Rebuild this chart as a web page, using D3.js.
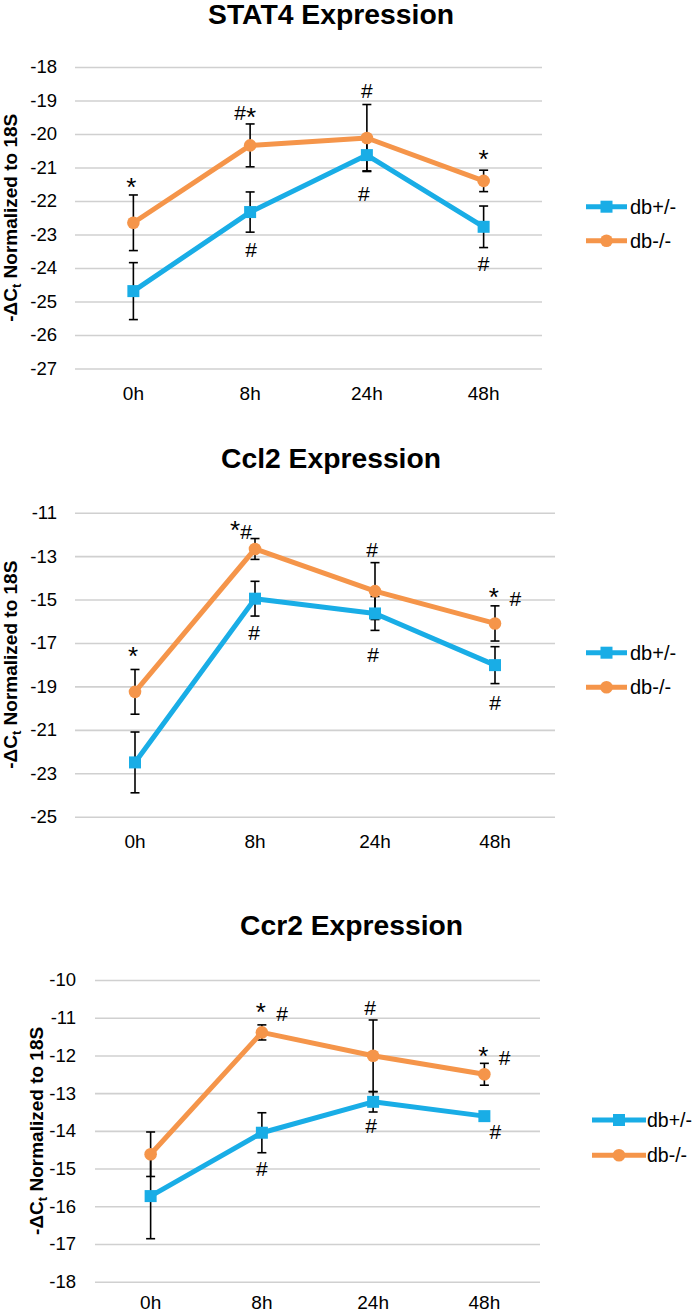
<!DOCTYPE html>
<html>
<head>
<meta charset="utf-8">
<script src="https://cdn.jsdelivr.net/npm/d3@7"></script>
<style>
  html, body { margin: 0; padding: 0; background: #fff; }
  svg { display: block; }
  text { font-family: "Liberation Sans", Arial, Helvetica, sans-serif; fill: #000; }
</style>
</head>
<body>
<svg id="chart" width="693" height="1313"></svg>
<script>
// ---------------- DATA ----------------
const categories = ["0h", "8h", "24h", "48h"];
const seriesNames = ["db+/-", "db-/-"];

// STAT4
const stat4Het    = [-24.69, -22.33, -20.63, -22.77];
const stat4HetErr = [0.85, 0.60, 0.47, 0.62];
const stat4Ko     = [-22.65, -20.34, -20.12, -21.40];
const stat4KoErr  = [0.83, 0.64, 1.00, 0.32];
const stat4Ticks  = [-18, -19, -20, -21, -22, -23, -24, -25, -26, -27];
const stat4MarkCats   = ["0h", "8h", "8h", "24h", "24h", "48h", "48h"];
const stat4MarkValues = [-21.46, -19.37, -23.44, -18.69, -21.77, -20.63, -23.88];
const stat4MarkTexts  = ["*", "#*", "#", "#", "#", "*", "#"];

// Ccl2
const ccl2Het    = [-22.50, -14.96, -15.64, -18.02];
const ccl2HetErr = [1.40, 0.80, 0.78, 0.85];
const ccl2Ko     = [-19.25, -12.67, -14.61, -16.10];
const ccl2KoErr  = [1.03, 0.48, 1.31, 0.81];
const ccl2Ticks  = [-11, -13, -15, -17, -19, -21, -23, -25];
const ccl2MarkCats   = ["0h", "8h", "8h", "24h", "24h", "48h", "48h"];
const ccl2MarkValues = [-17.43, -11.60, -16.53, -12.70, -17.51, -14.71, -19.75];
const ccl2MarkTexts  = ["*", "*#", "#", "#", "#", "* #", "#"];

// Ccr2
const ccr2Het    = [-15.73, -14.05, -13.23, -13.61];
const ccr2HetErr = [1.13, 0.53, 0.27, 0.08];
const ccr2Ko     = [-14.62, -11.39, -12.01, -12.50];
const ccr2KoErr  = [0.59, 0.20, 0.95, 0.29];
const ccr2Ticks  = [-10, -11, -12, -13, -14, -15, -16, -17, -18];
const ccr2MarkCats   = ["8h", "8h", "24h", "24h", "48h", "48h"];
const ccr2MarkValues = [-10.75, -14.99, -10.74, -13.85, -11.90, -14.03];
const ccr2MarkTexts  = ["* #", "#", "#", "#", "* #", "#"];

// ---------------- STYLE / LAYOUT ----------------
const BLUE = "#19ADE6";
const ORANGE = "#F5954A";
const GRID = "#D0D0D0";

const panels = [
  {
    title: "STAT4 Expression", titleX: 331, titleY: 24, titleW: 246,
    x0: 75, x1: 542, yTop: 67, yBottom: 368.5,
    ticks: stat4Ticks, tickRight: 57, xLabelY: 400, yLabelX: 17,
    het: stat4Het, hetErr: stat4HetErr, ko: stat4Ko, koErr: stat4KoErr,
    markCats: stat4MarkCats, markValues: stat4MarkValues, markTexts: stat4MarkTexts,
    markDx: [-2, -5, 1, 0, -3, 0, 0],
    legLine: [586, 627], legText: 630, legSize: 20, legY: [206.7, 240.7]
  },
  {
    title: "Ccl2 Expression", titleX: 331, titleY: 468, titleW: 220,
    x0: 75, x1: 555, yTop: 512.7, yBottom: 816.7,
    ticks: ccl2Ticks, tickRight: 57, xLabelY: 847.5, yLabelX: 17,
    het: ccl2Het, hetErr: ccl2HetErr, ko: ccl2Ko, koErr: ccl2KoErr,
    markCats: ccl2MarkCats, markValues: ccl2MarkValues, markTexts: ccl2MarkTexts,
    markDx: [-2, -14, -1, -3, -2, 10, 0],
    legLine: [586, 627], legText: 630, legSize: 20, legY: [652.7, 687.3]
  },
  {
    title: "Ccr2 Expression", titleX: 351.6, titleY: 935, titleW: 223,
    x0: 95, x1: 540, yTop: 980, yBottom: 1281.7,
    ticks: ccr2Ticks, tickRight: 76, xLabelY: 1308.5, yLabelX: 43,
    het: ccr2Het, hetErr: ccr2HetErr, ko: ccr2Ko, koErr: ccr2KoErr,
    markCats: ccr2MarkCats, markValues: ccr2MarkValues, markTexts: ccr2MarkTexts,
    markDx: [10, 0, -3, -2, 10, 11],
    legLine: [592, 646], legText: 647, legSize: 19.5, legY: [1120, 1155.3]
  }
];

const svg = d3.select("#chart");

function drawPanel(p) {
  const g = svg.append("g");
  const x = d3.scaleBand().domain(categories).range([p.x0, p.x1]);
  const cx = c => x(c) + x.bandwidth() / 2;
  const y = d3.scaleLinear().domain([d3.min(p.ticks), d3.max(p.ticks)]).range([p.yBottom, p.yTop]);

  // Y axis with gridlines
  const yAxis = d3.axisLeft(y)
    .tickValues(p.ticks)
    .tickSize(-(p.x1 - p.x0))
    .tickPadding(p.x0 - p.tickRight)
    .tickFormat(d => d.toString().replace("\u2212", "-"));
  const ya = g.append("g").attr("transform", `translate(${p.x0},0)`).call(yAxis);
  ya.select(".domain").remove();
  ya.selectAll(".tick line").attr("stroke", GRID).attr("stroke-width", 1.6);
  ya.selectAll(".tick text").attr("font-size", 18.5).attr("fill", "#111")
    .style("font-family", '"Liberation Sans", Arial, sans-serif');

  // X axis labels
  const xAxis = d3.axisBottom(x).tickSize(0).tickPadding(0);
  const xa = g.append("g").attr("transform", `translate(0,${p.xLabelY})`).call(xAxis);
  xa.select(".domain").remove();
  xa.selectAll(".tick text").attr("font-size", 19).attr("dy", 0).attr("fill", "#111")
    .style("font-family", '"Liberation Sans", Arial, sans-serif');

  const series = [
    { name: seriesNames[0], vals: p.het, errs: p.hetErr, color: BLUE, shape: "square" },
    { name: seriesNames[1], vals: p.ko, errs: p.koErr, color: ORANGE, shape: "circle" }
  ];

  // Error bars
  series.forEach(s => {
    const data = categories.map((c, i) => ({ c, v: s.vals[i], e: s.errs[i] }));
    const eb = g.append("g").attr("stroke", "#000").attr("stroke-width", 1.6);
    eb.selectAll("line.v").data(data).join("line")
      .attr("x1", d => cx(d.c)).attr("x2", d => cx(d.c))
      .attr("y1", d => y(d.v + d.e)).attr("y2", d => y(d.v - d.e));
    eb.selectAll("line.t").data(data).join("line")
      .attr("x1", d => cx(d.c) - 4.5).attr("x2", d => cx(d.c) + 4.5)
      .attr("y1", d => y(d.v + d.e)).attr("y2", d => y(d.v + d.e));
    eb.selectAll("line.b").data(data).join("line")
      .attr("x1", d => cx(d.c) - 4.5).attr("x2", d => cx(d.c) + 4.5)
      .attr("y1", d => y(d.v - d.e)).attr("y2", d => y(d.v - d.e));
  });

  // Lines and markers
  const line = d3.line().x(d => cx(d.c)).y(d => y(d.v));
  series.forEach(s => {
    const data = categories.map((c, i) => ({ c, v: s.vals[i] }));
    g.append("path").datum(data).attr("d", line)
      .attr("fill", "none").attr("stroke", s.color).attr("stroke-width", 5)
      .attr("stroke-linejoin", "round");
    if (s.shape === "square") {
      g.selectAll(null).data(data).join("rect")
        .attr("x", d => cx(d.c) - 6).attr("y", d => y(d.v) - 6)
        .attr("width", 12).attr("height", 12).attr("fill", s.color);
    } else {
      g.selectAll(null).data(data).join("circle")
        .attr("cx", d => cx(d.c)).attr("cy", d => y(d.v)).attr("r", 6.3)
        .attr("fill", s.color);
    }
  });

  // Significance marks
  p.markTexts.forEach((t, i) => {
    const tx = g.append("text")
      .attr("x", cx(p.markCats[i]) + p.markDx[i])
      .attr("y", y(p.markValues[i]) + 7.5)
      .attr("text-anchor", "middle")
      .attr("font-size", 21)
      .style("font-family", '"Liberation Sans", Arial, sans-serif');
    [...t].forEach(ch => {
      if (ch === "*") {
        tx.append("tspan").text("*").attr("font-size", 26).attr("dy", 5.5);
        tx.append("tspan").text("").attr("dy", -5.5);
      } else if (ch === " ") {
        tx.append("tspan").text("\u2002");
      } else {
        tx.append("tspan").text(ch);
      }
    });
  });

  // Legend
  series.forEach((s, i) => {
    const ly = p.legY[i];
    const mid = (p.legLine[0] + p.legLine[1]) / 2;
    g.append("line").attr("x1", p.legLine[0]).attr("x2", p.legLine[1])
      .attr("y1", ly).attr("y2", ly).attr("stroke", s.color).attr("stroke-width", 5);
    if (s.shape === "square") {
      g.append("rect").attr("x", mid - 6).attr("y", ly - 6).attr("width", 12).attr("height", 12).attr("fill", s.color);
    } else {
      g.append("circle").attr("cx", mid).attr("cy", ly).attr("r", 6.3).attr("fill", s.color);
    }
    g.append("text").attr("x", p.legText).attr("y", ly + 7)
      .attr("font-size", p.legSize).attr("fill", "#111").text(s.name);
  });

  // Title
  g.append("text").attr("x", p.titleX).attr("y", p.titleY)
    .attr("text-anchor", "middle").attr("font-size", 27).attr("font-weight", "bold")
    .attr("textLength", p.titleW).attr("lengthAdjust", "spacingAndGlyphs")
    .text(p.title);

  // Y label
  const cy = (p.yTop + p.yBottom) / 2;
  const yl = g.append("text")
    .attr("transform", `translate(${p.yLabelX},${cy}) rotate(-90)`)
    .attr("text-anchor", "middle").attr("font-size", 19).attr("font-weight", "bold");
  yl.append("tspan").text("-\u0394C");
  yl.append("tspan").text("t").attr("font-size", 13).attr("dy", 4);
  yl.append("tspan").text(" Normalized to 18S").attr("dy", -4);
}

panels.forEach(drawPanel);
</script>
</body>
</html>
